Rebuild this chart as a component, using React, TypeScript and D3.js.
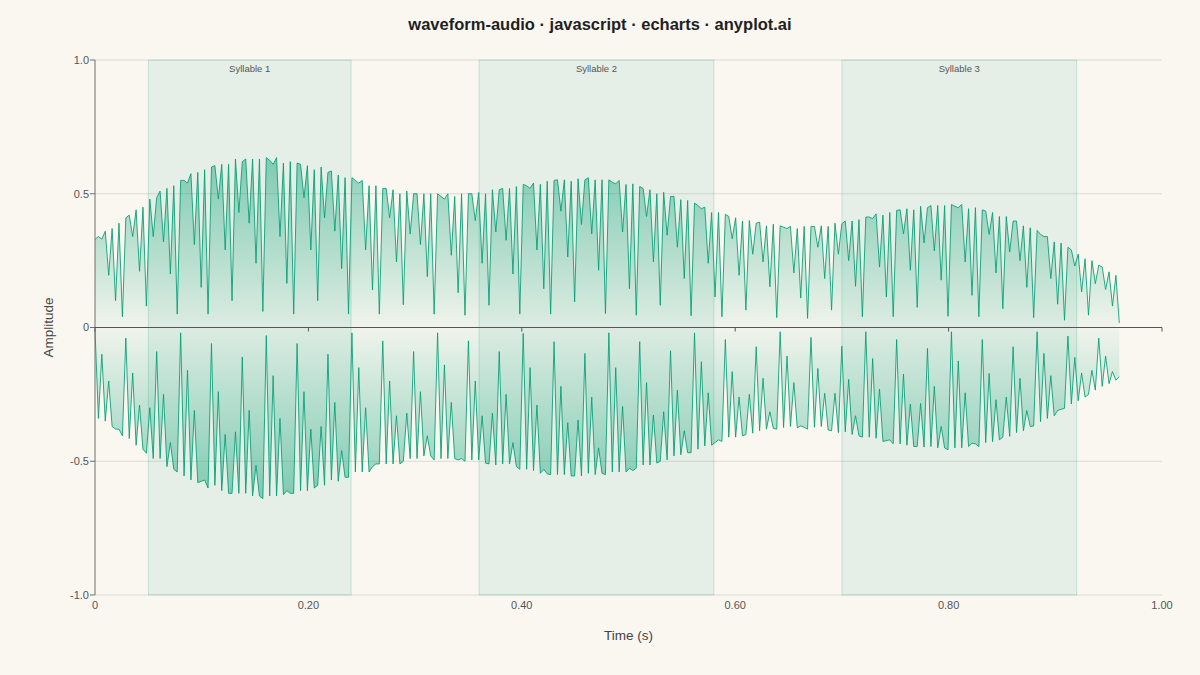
import React from "react";
import * as d3 from "d3";

const TITLE = "waveform-audio · javascript · echarts · anyplot.ai";
const DURATION = 0.96;

const UPPER: number[] = [
  0.33, 0.34, 0.33, 0.36, 0.195, 0.37, 0.1, 0.39, 0.04, 0.41,
  0.42, 0.34, 0.44, 0.21, 0.45, 0.08, 0.48, 0.34, 0.485, 0.51,
  0.32, 0.52, 0.2, 0.53, 0.05, 0.55, 0.55, 0.54, 0.575, 0.31,
  0.58, 0.15, 0.59, 0.05, 0.6, 0.605, 0.48, 0.61, 0.29, 0.61,
  0.1, 0.63, 0.43, 0.62, 0.63, 0.39, 0.63, 0.24, 0.63, 0.06,
  0.635, 0.625, 0.61, 0.635, 0.34, 0.615, 0.165, 0.62, 0.05, 0.615,
  0.61, 0.485, 0.605, 0.29, 0.59, 0.1, 0.6, 0.41, 0.58, 0.585,
  0.36, 0.57, 0.22, 0.56, 0.05, 0.56, 0.55, 0.54, 0.55, 0.29,
  0.53, 0.14, 0.53, 0.05, 0.52, 0.52, 0.41, 0.515, 0.245, 0.5,
  0.085, 0.51, 0.35, 0.5, 0.5, 0.31, 0.5, 0.19, 0.5, 0.05,
  0.5, 0.49, 0.48, 0.5, 0.27, 0.49, 0.13, 0.5, 0.046, 0.5,
  0.5, 0.4, 0.505, 0.24, 0.5, 0.083, 0.515, 0.357, 0.515, 0.52,
  0.326, 0.52, 0.2, 0.527, 0.05, 0.535, 0.53, 0.52, 0.54, 0.29,
  0.535, 0.145, 0.547, 0.05, 0.55, 0.552, 0.435, 0.552, 0.264, 0.547,
  0.096, 0.556, 0.385, 0.552, 0.56, 0.35, 0.552, 0.214, 0.552, 0.052,
  0.552, 0.543, 0.537, 0.55, 0.357, 0.535, 0.145, 0.537, 0.046, 0.527,
  0.52, 0.415, 0.515, 0.245, 0.5, 0.083, 0.506, 0.345, 0.49, 0.49,
  0.3, 0.478, 0.183, 0.475, 0.044, 0.465, 0.456, 0.444, 0.45, 0.24,
  0.43, 0.114, 0.43, 0.04, 0.423, 0.415, 0.332, 0.41, 0.195, 0.398,
  0.065, 0.4, 0.274, 0.39, 0.394, 0.245, 0.38, 0.152, 0.386, 0.037,
  0.38, 0.375, 0.37, 0.378, 0.204, 0.37, 0.11, 0.378, 0.034, 0.378,
  0.378, 0.3, 0.38, 0.183, 0.378, 0.065, 0.39, 0.274, 0.388, 0.398,
  0.25, 0.398, 0.154, 0.403, 0.04, 0.413, 0.413, 0.407, 0.425, 0.226,
  0.42, 0.114, 0.43, 0.04, 0.438, 0.44, 0.35, 0.444, 0.214, 0.44,
  0.075, 0.453, 0.316, 0.448, 0.456, 0.286, 0.456, 0.177, 0.456, 0.042,
  0.46, 0.453, 0.448, 0.46, 0.245, 0.444, 0.12, 0.448, 0.04, 0.44,
  0.435, 0.348, 0.43, 0.204, 0.415, 0.07, 0.415, 0.282, 0.398, 0.398,
  0.25, 0.38, 0.15, 0.373, 0.037, 0.363, 0.348, 0.34, 0.34, 0.183,
  0.32, 0.087, 0.316, 0.027, 0.3, 0.29, 0.23, 0.274, 0.133, 0.257,
  0.046, 0.25, 0.164, 0.233, 0.226, 0.142, 0.208, 0.08, 0.195, 0.017,
];

const LOWER: number[] = [
  -0.01, -0.34, -0.1, -0.35, -0.2, -0.37, -0.38, -0.38, -0.405, -0.04,
  -0.415, -0.17, -0.44, -0.29, -0.455, -0.47, -0.3, -0.49, -0.09, -0.49,
  -0.25, -0.52, -0.43, -0.53, -0.54, -0.02, -0.555, -0.16, -0.57, -0.31,
  -0.58, -0.575, -0.57, -0.6, -0.06, -0.59, -0.24, -0.61, -0.4, -0.62,
  -0.62, -0.39, -0.62, -0.11, -0.62, -0.31, -0.63, -0.515, -0.63, -0.64,
  -0.03, -0.63, -0.18, -0.63, -0.34, -0.625, -0.61, -0.62, -0.62, -0.06,
  -0.61, -0.24, -0.61, -0.38, -0.6, -0.59, -0.37, -0.59, -0.1, -0.57,
  -0.28, -0.575, -0.46, -0.56, -0.56, -0.02, -0.54, -0.15, -0.54, -0.3,
  -0.54, -0.52, -0.51, -0.51, -0.05, -0.51, -0.2, -0.51, -0.33, -0.51,
  -0.5, -0.32, -0.49, -0.09, -0.49, -0.24, -0.48, -0.405, -0.48, -0.495,
  -0.02, -0.49, -0.14, -0.49, -0.28, -0.49, -0.495, -0.49, -0.5, -0.05,
  -0.495, -0.2, -0.495, -0.33, -0.507, -0.51, -0.32, -0.514, -0.09, -0.51,
  -0.25, -0.51, -0.43, -0.52, -0.53, -0.022, -0.53, -0.15, -0.535, -0.29,
  -0.545, -0.53, -0.547, -0.55, -0.053, -0.55, -0.22, -0.55, -0.356, -0.555,
  -0.555, -0.346, -0.555, -0.097, -0.545, -0.26, -0.55, -0.45, -0.545, -0.55,
  -0.02, -0.54, -0.15, -0.54, -0.295, -0.54, -0.526, -0.535, -0.526, -0.053,
  -0.514, -0.206, -0.514, -0.327, -0.507, -0.5, -0.315, -0.495, -0.087, -0.48,
  -0.234, -0.476, -0.386, -0.468, -0.468, -0.02, -0.455, -0.128, -0.443, -0.244,
  -0.44, -0.43, -0.42, -0.426, -0.045, -0.41, -0.165, -0.41, -0.26, -0.405,
  -0.4, -0.25, -0.395, -0.072, -0.386, -0.19, -0.38, -0.315, -0.377, -0.38,
  -0.016, -0.374, -0.107, -0.37, -0.206, -0.375, -0.368, -0.373, -0.38, -0.037,
  -0.373, -0.153, -0.37, -0.246, -0.383, -0.386, -0.246, -0.393, -0.07, -0.39,
  -0.194, -0.4, -0.33, -0.405, -0.41, -0.016, -0.41, -0.116, -0.414, -0.23,
  -0.426, -0.423, -0.42, -0.435, -0.045, -0.435, -0.174, -0.44, -0.286, -0.445,
  -0.445, -0.284, -0.447, -0.078, -0.445, -0.22, -0.45, -0.37, -0.45, -0.457,
  -0.016, -0.45, -0.125, -0.45, -0.244, -0.445, -0.433, -0.435, -0.445, -0.045,
  -0.43, -0.172, -0.427, -0.27, -0.42, -0.41, -0.26, -0.407, -0.072, -0.393,
  -0.19, -0.386, -0.31, -0.37, -0.368, -0.016, -0.352, -0.097, -0.34, -0.18,
  -0.33, -0.31, -0.306, -0.302, -0.032, -0.286, -0.112, -0.274, -0.17, -0.26,
  -0.25, -0.16, -0.234, -0.04, -0.22, -0.107, -0.21, -0.165, -0.197, -0.184,
];

const SYLLABLE_NAMES = ["Syllable 1", "Syllable 2", "Syllable 3"];
const SYLLABLE_START = [0.05, 0.36, 0.7];
const SYLLABLE_END = [0.24, 0.58, 0.92];

const X_TICKS = [0, 0.2, 0.4, 0.6, 0.8, 1.0];
const X_TICK_LABELS = ["0", "0.20", "0.40", "0.60", "0.80", "1.00"];
const Y_TICKS = [1, 0.5, 0, -0.5, -1];
const Y_TICK_LABELS = ["1.0", "0.5", "0", "-0.5", "-1.0"];

const W = 1200;
const H = 675;
const LEFT = 95;
const RIGHT = 1162;
const TOP = 60;
const BOTTOM = 595;

const GREEN = "#009E73";
const FONT = "'Liberation Sans', Arial, Helvetica, sans-serif";

export default function App() {
  const x = d3.scaleLinear().domain([0, 1]).range([LEFT, RIGHT]);
  const y = d3.scaleLinear().domain([-1, 1]).range([BOTTOM, TOP]);
  const step = DURATION / (UPPER.length - 1);

  const area = d3
    .area<number>()
    .x((_, i) => x(i * step))
    .y0(y(0))
    .y1((d) => y(d));
  const line = d3
    .line<number>()
    .x((_, i) => x(i * step))
    .y((d) => y(d));

  return (
    <svg
      width={W}
      height={H}
      style={{ position: "absolute", left: 0, top: 0, background: "#FAF7F1" }}
      fontFamily={FONT}
    >
      <defs>
        <linearGradient id="gUp" x1="0" y1="0" x2="0" y2="1">
          <stop offset="0" stopColor={GREEN} stopOpacity={0.45} />
          <stop offset="1" stopColor={GREEN} stopOpacity={0.04} />
        </linearGradient>
        <linearGradient id="gDown" x1="0" y1="0" x2="0" y2="1">
          <stop offset="0" stopColor={GREEN} stopOpacity={0.04} />
          <stop offset="1" stopColor={GREEN} stopOpacity={0.45} />
        </linearGradient>
      </defs>
      <rect x={0} y={0} width={W} height={H} fill="#FAF7F1" />

      <text
        x={W / 2}
        y={30}
        textAnchor="middle"
        fontSize={16.5}
        fontWeight="bold"
        fill="#1f1f1f"
      >
        {TITLE}
      </text>

      {/* grid */}
      {Y_TICKS.filter((v) => v !== 0).map((v) => (
        <line
          key={"g" + v}
          x1={LEFT}
          x2={RIGHT}
          y1={y(v)}
          y2={y(v)}
          stroke="#dcdad5"
          strokeWidth={1}
        />
      ))}

      {/* syllable bands */}
      {SYLLABLE_NAMES.map((name, i) => (
        <g key={name}>
          <rect
            x={x(SYLLABLE_START[i])}
            y={y(1)}
            width={x(SYLLABLE_END[i]) - x(SYLLABLE_START[i])}
            height={y(-1) - y(1)}
            fill={GREEN}
            fillOpacity={0.08}
            stroke={GREEN}
            strokeOpacity={0.2}
            strokeWidth={1}
          />
          <text
            x={(x(SYLLABLE_START[i]) + x(SYLLABLE_END[i])) / 2}
            y={y(1) + 11.5}
            textAnchor="middle"
            fontSize={9.5}
            fill="#555"
          >
            {name}
          </text>
        </g>
      ))}

      {/* waveform */}
      <path d={area(UPPER) || ""} fill="url(#gUp)" />
      <path d={area(LOWER) || ""} fill="url(#gDown)" />
      <path
        d={line(UPPER) || ""}
        fill="none"
        stroke={GREEN}
        strokeWidth={1}
        strokeOpacity={0.85}
        strokeLinejoin="round"
      />
      <path
        d={line(LOWER) || ""}
        fill="none"
        stroke={GREEN}
        strokeWidth={1}
        strokeOpacity={0.85}
        strokeLinejoin="round"
      />

      {/* y axis */}
      <line x1={LEFT} x2={LEFT} y1={TOP} y2={BOTTOM} stroke="#6e6e6e" strokeWidth={1} />
      {Y_TICKS.map((v, i) => (
        <g key={"y" + v}>
          <line x1={LEFT - 5} x2={LEFT} y1={y(v)} y2={y(v)} stroke="#6e6e6e" strokeWidth={1} />
          <text
            x={LEFT - 6}
            y={y(v)}
            dy="0.35em"
            textAnchor="end"
            fontSize={11}
            fill="#555"
          >
            {Y_TICK_LABELS[i]}
          </text>
        </g>
      ))}

      {/* x axis at zero */}
      <line x1={LEFT} x2={RIGHT} y1={y(0)} y2={y(0)} stroke="#555" strokeWidth={1.2} />
      {X_TICKS.map((v, i) => (
        <g key={"x" + v}>
          <line x1={x(v)} x2={x(v)} y1={y(0)} y2={y(0) + 4} stroke="#555" strokeWidth={1} />
          <text x={x(v)} y={BOTTOM + 14} textAnchor="middle" fontSize={11} fill="#555">
            {X_TICK_LABELS[i]}
          </text>
        </g>
      ))}

      {/* axis titles */}
      <text
        x={(LEFT + RIGHT) / 2}
        y={640}
        textAnchor="middle"
        fontSize={13.5}
        fill="#444"
      >
        Time (s)
      </text>
      <text
        transform={`translate(53, ${(TOP + BOTTOM) / 2}) rotate(-90)`}
        textAnchor="middle"
        fontSize={13.5}
        fill="#444"
      >
        Amplitude
      </text>
    </svg>
  );
}
